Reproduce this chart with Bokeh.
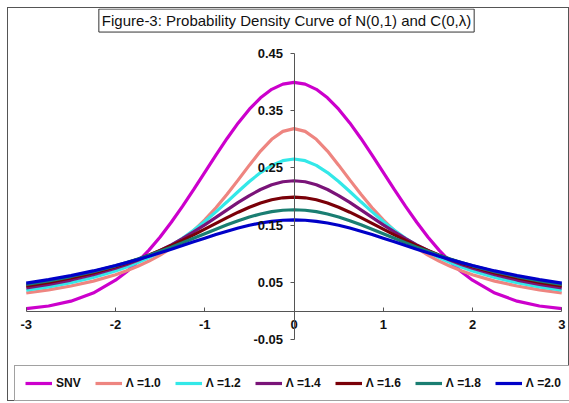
from bokeh.plotting import figure
from bokeh.models import Range1d, FixedTicker, NumeralTickFormatter, Legend, LegendItem, Label
from bokeh.embed import file_html
from bokeh.resources import INLINE

x_vals = [-3.0, -2.75, -2.5, -2.25, -2.0, -1.875, -1.75, -1.625, -1.5, -1.375, -1.25, -1.125, -1.0,
          -0.875, -0.75, -0.625, -0.5, -0.375, -0.25, -0.125, 0.0, 0.125, 0.25, 0.375, 0.5, 0.625,
          0.75, 0.875, 1.0, 1.125, 1.25, 1.375, 1.5, 1.625, 1.75, 1.875, 2.0, 2.25, 2.5, 2.75, 3.0]

snv = [0.0044, 0.0091, 0.0175, 0.0317, 0.0540, 0.0688, 0.0863, 0.1065, 0.1295, 0.1550, 0.1826, 0.2119,
       0.2420, 0.2721, 0.3011, 0.3282, 0.3521, 0.3719, 0.3867, 0.3958, 0.3989, 0.3958, 0.3867, 0.3719,
       0.3521, 0.3282, 0.3011, 0.2721, 0.2420, 0.2119, 0.1826, 0.1550, 0.1295, 0.1065, 0.0863, 0.0688,
       0.0540, 0.0317, 0.0175, 0.0091, 0.0044]
lam_10 = [0.0318, 0.0372, 0.0439, 0.0525, 0.0637, 0.0705, 0.0784, 0.0874, 0.0979, 0.1101, 0.1242, 0.1405,
          0.1592, 0.1803, 0.2037, 0.2289, 0.2546, 0.2791, 0.2996, 0.3134, 0.3183, 0.3134, 0.2996, 0.2791,
          0.2546, 0.2289, 0.2037, 0.1803, 0.1592, 0.1405, 0.1242, 0.1101, 0.0979, 0.0874, 0.0784, 0.0705,
          0.0637, 0.0525, 0.0439, 0.0372, 0.0318]
lam_12 = [0.0366, 0.0424, 0.0497, 0.0587, 0.0702, 0.0771, 0.0848, 0.0936, 0.1035, 0.1147, 0.1272, 0.1412,
          0.1565, 0.1732, 0.1907, 0.2087, 0.2260, 0.2417, 0.2542, 0.2624, 0.2653, 0.2624, 0.2542, 0.2417,
          0.2260, 0.2087, 0.1907, 0.1732, 0.1565, 0.1412, 0.1272, 0.1147, 0.1035, 0.0936, 0.0848, 0.0771,
          0.0702, 0.0587, 0.0497, 0.0424, 0.0366]
lam_14 = [0.0407, 0.0468, 0.0543, 0.0635, 0.0748, 0.0814, 0.0887, 0.0969, 0.1058, 0.1157, 0.1265, 0.1382,
          0.1506, 0.1635, 0.1767, 0.1896, 0.2016, 0.2121, 0.2203, 0.2256, 0.2274, 0.2256, 0.2203, 0.2121,
          0.2016, 0.1896, 0.1767, 0.1635, 0.1506, 0.1382, 0.1265, 0.1157, 0.1058, 0.0969, 0.0887, 0.0814,
          0.0748, 0.0635, 0.0543, 0.0468, 0.0407]
lam_16 = [0.0441, 0.0503, 0.0578, 0.0668, 0.0776, 0.0838, 0.0906, 0.0979, 0.1059, 0.1144, 0.1235, 0.1331,
          0.1431, 0.1531, 0.1631, 0.1726, 0.1812, 0.1886, 0.1942, 0.1977, 0.1989, 0.1977, 0.1942, 0.1886,
          0.1812, 0.1726, 0.1631, 0.1531, 0.1431, 0.1331, 0.1235, 0.1144, 0.1059, 0.0979, 0.0906, 0.0838,
          0.0776, 0.0668, 0.0578, 0.0503, 0.0441]
lam_18 = [0.0468, 0.0530, 0.0604, 0.0690, 0.0791, 0.0848, 0.0909, 0.0974, 0.1044, 0.1117, 0.1193, 0.1272,
          0.1351, 0.1430, 0.1507, 0.1578, 0.1642, 0.1695, 0.1735, 0.1760, 0.1768, 0.1760, 0.1735, 0.1695,
          0.1642, 0.1578, 0.1507, 0.1430, 0.1351, 0.1272, 0.1193, 0.1117, 0.1044, 0.0974, 0.0909, 0.0848,
          0.0791, 0.0690, 0.0604, 0.0530, 0.0468]
lam_20 = [0.0490, 0.0551, 0.0621, 0.0702, 0.0796, 0.0847, 0.0901, 0.0959, 0.1019, 0.1081, 0.1144, 0.1209,
          0.1273, 0.1336, 0.1395, 0.1450, 0.1498, 0.1537, 0.1567, 0.1585, 0.1592, 0.1585, 0.1567, 0.1537,
          0.1498, 0.1450, 0.1395, 0.1336, 0.1273, 0.1209, 0.1144, 0.1081, 0.1019, 0.0959, 0.0901, 0.0847,
          0.0796, 0.0702, 0.0621, 0.0551, 0.0490]

series_labels = ["SNV", "Λ =1.0", "Λ =1.2", "Λ =1.4", "Λ =1.6", "Λ =1.8", "Λ =2.0"]
series_values = [snv, lam_10, lam_12, lam_14, lam_16, lam_18, lam_20]
series_colors = ["#CC00CC", "#EE8580", "#33E8E8", "#7A1478", "#7A0008", "#1A7E72", "#0000C8"]

x_ticks = [-3, -2, -1, 0, 1, 2, 3]
y_ticks = [-0.05, 0.05, 0.15, 0.25, 0.35, 0.45]

title_text = "Figure-3: Probability Density Curve of N(0,1) and C(0,λ)"

p = figure(width=562, height=394, output_backend="svg", toolbar_location=None, title=None,
           x_range=Range1d(-3.199, 3.098), y_range=Range1d(-0.1591, 0.5276),
           min_border_left=0, min_border_right=0, min_border_top=0, min_border_bottom=0)
p.styles = {"border": "1px solid #555555", "margin-left": "7px", "margin-top": "7px"}

p.outline_line_color = None
p.xgrid.visible = False
p.ygrid.visible = False
p.background_fill_color = "white"
p.border_fill_color = "white"

xa = p.xaxis[0]
xa.fixed_location = 0
xa.bounds = (-3, 3)
xa.ticker = FixedTicker(ticks=x_ticks)
xa.minor_tick_line_color = None
xa.major_tick_in = 4
xa.major_tick_out = 0
xa.axis_line_color = "#555555"
xa.major_tick_line_color = "#555555"
xa.major_label_text_font = "Liberation Sans"
xa.major_label_text_font_style = "bold"
xa.major_label_text_font_size = "13px"
xa.major_label_text_color = "#111111"
xa.major_label_standoff = 9
xa.formatter = NumeralTickFormatter(format="0")

ya = p.yaxis[0]
ya.fixed_location = 0
ya.bounds = (-0.05, 0.45)
ya.ticker = FixedTicker(ticks=y_ticks)
ya.minor_tick_line_color = None
ya.major_tick_in = 0
ya.major_tick_out = 4
ya.axis_line_color = "#555555"
ya.major_tick_line_color = "#555555"
ya.major_label_text_font = "Liberation Sans"
ya.major_label_text_font_style = "bold"
ya.major_label_text_font_size = "13px"
ya.major_label_text_color = "#111111"
ya.major_label_standoff = 7
ya.formatter = NumeralTickFormatter(format="0.00")

items = []
for lab, vals, col in zip(series_labels, series_values, series_colors):
    r = p.line(x_vals, vals, line_color=col, line_width=3.2)
    items.append(LegendItem(label=lab, renderers=[r]))

legend = Legend(items=items, orientation="horizontal", location=(6, 1),
                glyph_width=27, glyph_height=12, label_height=12, label_standoff=4,
                spacing=14, padding=10, margin=0,
                label_text_font="Liberation Sans", label_text_font_style="bold",
                label_text_font_size="12px", label_text_color="#111111",
                border_line_color="#444444", border_line_width=1,
                background_fill_color="white", background_fill_alpha=1.0)
p.add_layout(legend)

title = Label(x=-0.084, y=0.5066, text=title_text, text_align="center", text_baseline="middle",
              text_font="Liberation Sans", text_font_size="15px", text_color="#111111",
              border_line_color="#333333", border_line_width=1,
              background_fill_color="white", padding=3)
p.add_layout(title)

open("out.html", "w").write(file_html(p, INLINE))
